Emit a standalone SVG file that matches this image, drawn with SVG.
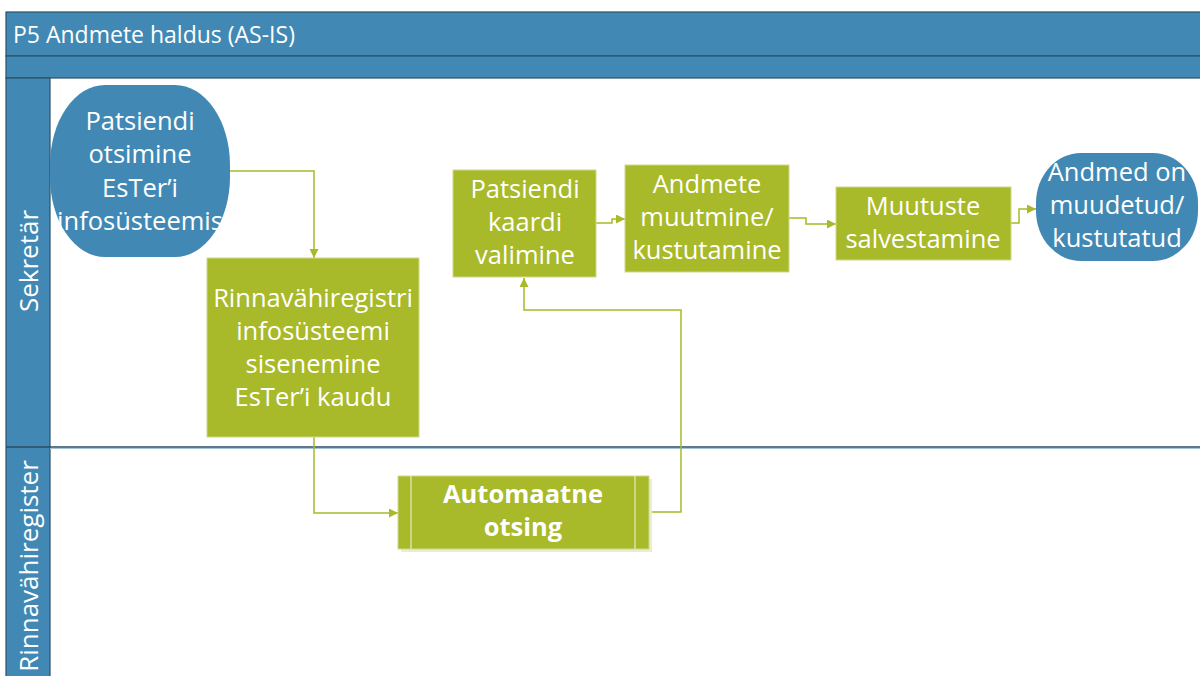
<svg xmlns="http://www.w3.org/2000/svg" width="1200" height="676" viewBox="0 0 1200 676">
  <defs>
    <style>
      .pool { fill: #4189b4; stroke: #2a5068; stroke-width: 1.2; }
      .task { fill: #a8b929; stroke: #cfd98a; stroke-width: 1; }
      .term { fill: #4189b4; }
      .lbl { font-family: "Open Sans", "Noto Sans", sans-serif; font-size: 25.5px; fill: #ffffff; text-anchor: middle; }
      .lane { font-size: 26px; }
      .bold { font-weight: bold; }
      .title { font-family: "Open Sans", "Noto Sans", sans-serif; font-size: 23px; fill: #ffffff; }
      .flow { fill: none; stroke: #a8b929; stroke-width: 1.5; }
    </style>
    <marker id="arrow" viewBox="0 0 10 10" refX="10" refY="5" markerWidth="9" markerHeight="9" markerUnits="userSpaceOnUse" orient="auto">
      <path d="M0,0 L10,5 L0,10 z" fill="#a8b929"/>
    </marker>
  </defs>

  <rect width="1200" height="676" fill="#ffffff"/>

  <!-- pool header and lane labels -->
  <g id="pool">
    <rect class="pool" x="6" y="12" width="1200" height="44"/>
    <rect class="pool" x="6" y="56" width="1200" height="22"/>
    <rect class="pool" x="6" y="78" width="44" height="610"/>
    <text class="title" x="13" y="43">P5 Andmete haldus (AS-IS)</text>
    <line x1="6" y1="447" x2="1200" y2="447" stroke="#2a4d63" stroke-width="1.5"/>
    <line x1="50" y1="448.5" x2="1200" y2="448.5" stroke="#a9c3d6" stroke-width="1.2"/>
  </g>
  <g id="lane-sekretar">
    <text class="lbl lane" transform="translate(38,261) rotate(-90)">Sekretär</text>
  </g>
  <g id="lane-rinnavahiregister">
    <text class="lbl lane" transform="translate(38,566) rotate(-90)">Rinnavähiregister</text>
  </g>

  <!-- connectors -->
  <g id="connectors">
    <polyline class="flow" points="230,171 314,171 314,258" marker-end="url(#arrow)"/>
    <polyline class="flow" points="314,437 314,513 398,513" marker-end="url(#arrow)"/>
    <polyline class="flow" points="649,512 681,512 681,310 524,310 524,278" marker-end="url(#arrow)"/>
    <polyline class="flow" points="596,223 612,223 612,219 625,219" marker-end="url(#arrow)"/>
    <polyline class="flow" points="789,218 806,218 806,224 836,224" marker-end="url(#arrow)"/>
    <polyline class="flow" points="1011,223 1019,223 1019,209 1036,209" marker-end="url(#arrow)"/>
  </g>

  <!-- start event -->
  <g id="start">
    <rect class="term" x="50" y="85" width="180" height="172" rx="55" ry="80"/>
    <text class="lbl" x="140" y="130">Patsiendi</text>
    <text class="lbl" x="140" y="163">otsimine</text>
    <text class="lbl" x="140" y="197">EsTer’i</text>
    <text class="lbl" x="140" y="230">infosüsteemis</text>
  </g>

  <g id="login">
    <rect class="task" x="207" y="258" width="212" height="179"/>
    <text class="lbl" x="313" y="307">Rinnavähiregistri</text>
    <text class="lbl" x="313" y="340">infosüsteemi</text>
    <text class="lbl" x="313" y="373">sisenemine</text>
    <text class="lbl" x="313" y="406">EsTer’i kaudu</text>
  </g>

  <g id="search">
    <rect x="401" y="479" width="251" height="73" fill="#e9eed0"/>
    <rect class="task" x="398" y="476" width="251" height="73"/>
    <line x1="411" y1="476" x2="411" y2="549" stroke="#e6ecc4" stroke-width="1.2"/>
    <line x1="635" y1="476" x2="635" y2="549" stroke="#e6ecc4" stroke-width="1.2"/>
    <text class="lbl bold" x="523" y="503">Automaatne</text>
    <text class="lbl bold" x="523" y="536">otsing</text>
  </g>

  <g id="select-card">
    <rect class="task" x="453" y="170" width="143" height="107"/>
    <text class="lbl" x="525" y="198">Patsiendi</text>
    <text class="lbl" x="525" y="231">kaardi</text>
    <text class="lbl" x="525" y="264">valimine</text>
  </g>

  <g id="edit">
    <rect class="task" x="625" y="165" width="164" height="107"/>
    <text class="lbl" x="707" y="193">Andmete</text>
    <text class="lbl" x="707" y="226">muutmine/</text>
    <text class="lbl" x="707" y="259">kustutamine</text>
  </g>

  <g id="save">
    <rect class="task" x="836" y="187" width="175" height="73"/>
    <text class="lbl" x="923" y="215">Muutuste</text>
    <text class="lbl" x="923" y="248">salvestamine</text>
  </g>

  <g id="end">
    <rect class="term" x="1036" y="153" width="162" height="108" rx="45" ry="50"/>
    <text class="lbl" x="1117" y="181">Andmed on</text>
    <text class="lbl" x="1117" y="214">muudetud/</text>
    <text class="lbl" x="1117" y="247">kustutatud</text>
  </g>
</svg>
